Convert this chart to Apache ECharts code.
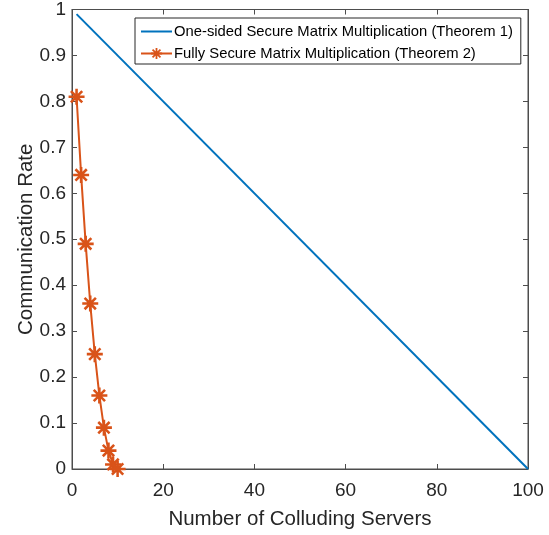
<!DOCTYPE html>
<html>
<head>
<meta charset="utf-8">
<script src="https://cdn.jsdelivr.net/npm/echarts@6/dist/echarts.min.js"></script>
<style>
  html, body { margin: 0; padding: 0; background: #fff; }
  #chart { width: 549px; height: 535px; }
</style>
</head>
<body>
<div id="chart"></div>
<script>
// data
const oneSidedX = [1, 100]
const oneSidedY = [0.99, 0]
const fullyX = [1, 2, 3, 4, 5, 6, 7, 8, 9, 10]
const fullyY = [0.81, 0.64, 0.49, 0.36, 0.25, 0.16, 0.09, 0.04, 0.01, 0]
const seriesNames = [
  "One-sided Secure Matrix Multiplication (Theorem 1)",
  "Fully Secure Matrix Multiplication (Theorem 2)"
]

// matlab style "*" marker
const star = "path://M-10,-1.6L10,-1.6L10,1.6L-10,1.6Z" +
  "M-1.6,-10L1.6,-10L1.6,10L-1.6,10Z" +
  "M-5.94,-8.2L8.2,5.94L5.94,8.2L-8.2,-5.94Z" +
  "M-8.2,5.94L5.94,-8.2L8.2,-5.94L-5.94,8.2Z"

const font = "Liberation Sans"
const axisColor = "#4d4d4d"
const textColor = "#262626"

const pairs = (xs, ys) => xs.map((x, i) => [x, ys[i]])

// one axis of the matlab style box, ticks pointing inwards
const boxAxis = (extra) => ({
  type: "value",
  axisLine: { show: true, onZero: false, lineStyle: { color: axisColor, width: 1 } },
  axisTick: { show: true, inside: true, length: 5, lineStyle: { color: axisColor, width: 1 } },
  splitLine: { show: false },
  ...extra
})

const chart = echarts.init(document.getElementById("chart"))

chart.setOption({
  animation: false,
  textStyle: { fontFamily: font },
  grid: { left: 72, right: 21, top: 9, bottom: 66, show: true, borderColor: axisColor, borderWidth: 1 },
  legend: {
    orient: "vertical",
    left: 135,
    top: 18,
    padding: [6, 8, 3, 5],
    itemGap: 7,
    itemWidth: 31,
    itemHeight: 14,
    borderColor: "#262626",
    borderWidth: 1,
    borderRadius: 0,
    backgroundColor: "#fff",
    textStyle: { fontSize: 14.8, color: "#000", fontFamily: font, padding: [0, 0, 0, -3] },
    data: [
      { name: seriesNames[0], itemStyle: { opacity: 0 } },
      { name: seriesNames[1] }
    ]
  },
  xAxis: [
    boxAxis({
      min: 0,
      max: 100,
      interval: 20,
      position: "bottom",
      name: "Number of Colluding Servers",
      nameLocation: "middle",
      nameGap: 40,
      nameMoveOverlap: false,
      nameTextStyle: { fontSize: 20.5, color: textColor },
      axisLabel: { fontSize: 19, color: textColor, margin: 12 }
    }),
    boxAxis({
      min: 0,
      max: 100,
      interval: 20,
      position: "top",
      axisLabel: { show: false }
    })
  ],
  yAxis: [
    boxAxis({
      min: 0,
      max: 1,
      interval: 0.1,
      position: "left",
      name: "Communication Rate",
      nameLocation: "middle",
      nameGap: 35,
      nameMoveOverlap: false,
      nameTextStyle: { fontSize: 20.5, color: textColor },
      axisLabel: { fontSize: 19, color: textColor, margin: 6 }
    }),
    boxAxis({
      min: 0,
      max: 1,
      interval: 0.1,
      position: "right",
      axisLabel: { show: false }
    })
  ],
  series: [
    {
      name: seriesNames[0],
      type: "line",
      data: pairs(oneSidedX, oneSidedY),
      symbol: "none",
      lineStyle: { color: "#0072BD", width: 2 },
      itemStyle: { color: "#0072BD" }
    },
    {
      name: seriesNames[1],
      type: "line",
      data: pairs(fullyX, fullyY),
      symbol: star,
      symbolSize: 16,
      showAllSymbol: true,
      lineStyle: { color: "#D95319", width: 2 },
      itemStyle: { color: "#D95319" }
    }
  ]
})
</script>
</body>
</html>
